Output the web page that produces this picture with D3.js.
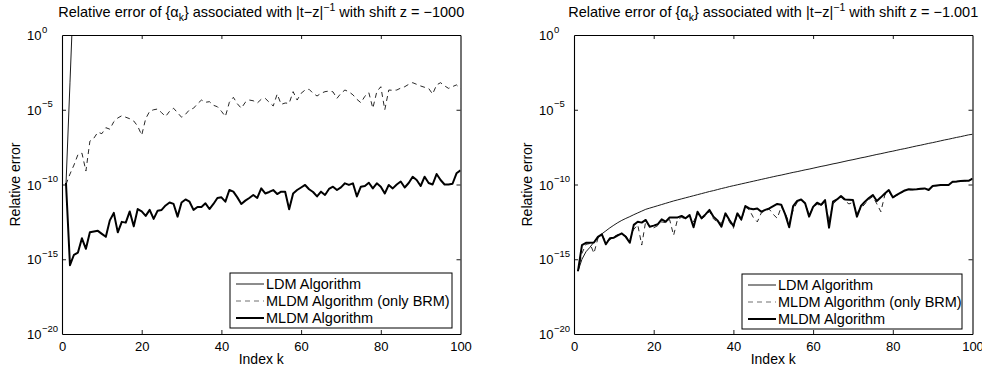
<!DOCTYPE html>
<html><head><meta charset="utf-8">
<script src="https://cdn.jsdelivr.net/npm/d3@7"></script>
<style>
html,body{margin:0;padding:0;background:#fff;}
svg{display:block;font-family:"Liberation Sans",Arial,Helvetica,sans-serif;}
</style></head>
<body>
<svg id="c" width="982" height="372"></svg>
<script>
// ---- DATA (log10 of relative error, index k = 1..n) ----
const indexK = d3.range(1, 101);
const xTicks = [0, 20, 40, 60, 80, 100];
const yTickExponents = [0, -5, -10, -15, -20];
const legendLabels = ["LDM Algorithm", "MLDM Algorithm (only BRM)", "MLDM Algorithm"];
const titlesShift = ["\u22121000", "\u22121.001"];

// Left panel (z = -1000)
const ldmLeft = [-10.0, -3.2, 3.6, 10.4];
const brmLeft = [-10.0,-9.3,-8.7,-8.0,-7.9,-9.1,-7.1,-6.9,-6.5,-6.6,
  -6.2,-6.3,-5.8,-5.55,-5.4,-5.5,-5.6,-5.75,-6.1,-6.7,
  -5.6,-5.1,-5.0,-4.95,-5.2,-5.45,-5.1,-4.9,-5.2,-5.5,
  -5.3,-5.0,-4.9,-4.6,-4.35,-4.5,-4.46,-4.7,-4.8,-5.1,
  -5.45,-4.5,-4.17,-4.6,-4.9,-4.5,-4.35,-4.4,-4.55,-4.3,
  -4.24,-4.5,-4.75,-3.95,-4.64,-4.55,-4.57,-3.79,-4.35,-3.9,
  -3.68,-3.63,-3.9,-4.08,-3.9,-3.79,-3.75,-3.8,-4.24,-3.9,
  -3.68,-3.8,-4.0,-4.3,-4.53,-4.1,-3.86,-4.9,-3.79,-3.46,
  -5.0,-3.68,-3.7,-3.68,-3.55,-3.46,-3.3,-3.19,-3.3,-3.41,
  -3.5,-3.57,-3.95,-3.34,-3.19,-3.4,-3.57,-3.45,-3.34,-3.6];
const mldmLeft = [-9.9,-15.4,-14.7,-14.55,-13.6,-14.3,-13.2,-13.15,-13.1,-13.3,
  -13.5,-12.4,-11.9,-13.2,-12.5,-12.55,-11.8,-12.8,-11.64,-11.8,
  -12.1,-11.7,-12.3,-11.75,-11.7,-11.4,-11.2,-11.3,-12.15,-11.2,
  -11.0,-11.15,-11.7,-11.5,-11.5,-11.26,-11.64,-11.3,-10.9,-10.86,
  -11.15,-10.37,-10.48,-10.86,-11.3,-11.08,-10.9,-10.7,-10.9,-10.26,
  -10.6,-10.5,-10.37,-10.64,-10.48,-10.48,-11.66,-10.6,-10.37,-10.2,
  -10.03,-10.32,-10.5,-10.8,-10.48,-10.7,-10.3,-10.15,-10.37,-10.19,
  -9.92,-10.03,-9.92,-10.8,-10.15,-10.1,-9.88,-10.26,-9.92,-10.15,
  -10.6,-10.03,-10.26,-10.0,-9.8,-10.2,-9.9,-9.48,-9.7,-10.1,
  -9.48,-9.9,-10.0,-9.3,-9.7,-10.0,-10.0,-9.95,-9.25,-9.05];

// Right panel (z = -1.001)
const ldmRight = [-15.8,-15.0,-14.5,-14.2,-13.85,-13.55,-13.3,-13.1,-12.9,-12.72,
  -12.55,-12.4,-12.27,-12.15,-12.02,-11.9,-11.78,-11.66,-11.58,-11.5,
  -11.42,-11.34,-11.26,-11.18,-11.1,-11.03,-10.96,-10.89,-10.82,-10.75,
  -10.68,-10.61,-10.54,-10.47,-10.41,-10.34,-10.27,-10.21,-10.14,-10.08,
  -10.02,-9.96,-9.9,-9.84,-9.78,-9.72,-9.66,-9.6,-9.54,-9.48,
  -9.42,-9.37,-9.31,-9.25,-9.19,-9.14,-9.08,-9.02,-8.97,-8.91,
  -8.85,-8.79,-8.74,-8.68,-8.62,-8.57,-8.51,-8.45,-8.39,-8.34,
  -8.28,-8.22,-8.17,-8.11,-8.05,-7.99,-7.94,-7.88,-7.82,-7.77,
  -7.71,-7.65,-7.6,-7.54,-7.48,-7.42,-7.37,-7.31,-7.25,-7.2,
  -7.14,-7.08,-7.02,-6.97,-6.91,-6.85,-6.8,-6.74,-6.68,-6.64];
const brmRight = [-15.8,-14.6,-14.0,-13.95,-14.6,-13.6,-13.4,-13.8,-13.7,-13.5,
  -13.35,-13.3,-13.45,-13.7,-13.0,-12.7,-14.05,-12.45,-12.8,-12.9,
  -12.75,-12.5,-12.55,-12.35,-13.4,-12.3,-12.2,-12.3,-12.1,-12.5,
  -11.9,-12.3,-12.1,-11.8,-12.3,-12.5,-12.6,-12.0,-12.5,-12.93,
  -12.0,-12.4,-11.5,-11.7,-12.2,-12.5,-11.9,-11.75,-11.65,-12.0,
  -12.26,-11.5,-11.9,-12.6,-11.7,-11.2,-11.05,-11.3,-12.0,-11.6,
  -11.3,-11.45,-11.1,-12.5,-11.3,-11.05,-10.85,-11.1,-11.3,-11.2,
  -11.9,-11.6,-11.3,-11.0,-10.8,-11.3,-11.82,-10.7,-10.45,-10.9,
  -10.72,-10.6,-10.42,-10.35,-10.35,-10.3,-10.3,-10.28,-10.35,-10.12,
  -10.08,-10.05,-10.05,-10.04,-9.83,-9.82,-9.78,-9.77,-9.76,-9.62];
const mldmRight = [-15.8,-14.05,-13.9,-13.9,-13.88,-13.5,-13.33,-14.0,-13.6,-13.56,
  -13.4,-13.27,-13.5,-13.9,-12.7,-12.49,-12.55,-12.37,-12.82,-12.75,
  -12.66,-12.33,-12.49,-12.2,-12.2,-12.2,-12.1,-12.26,-12.04,-12.86,
  -11.82,-12.26,-12.0,-11.7,-12.15,-12.4,-12.82,-11.93,-12.37,-12.78,
  -11.93,-12.33,-11.44,-11.6,-11.66,-11.6,-11.82,-11.7,-11.6,-11.45,
  -11.3,-11.35,-12.0,-12.86,-11.44,-11.1,-11.0,-11.26,-12.15,-11.5,
  -11.22,-11.37,-11.04,-12.89,-11.15,-11.0,-10.77,-11.0,-11.02,-11.04,
  -12.15,-11.44,-11.15,-10.9,-10.7,-11.1,-10.86,-10.6,-10.37,-10.86,
  -10.7,-10.55,-10.4,-10.32,-10.33,-10.32,-10.28,-10.26,-10.37,-10.1,
  -10.06,-10.03,-10.04,-10.03,-9.81,-9.8,-9.76,-9.75,-9.75,-9.6];

// ---- LAYOUT ----
const FONT = '"Liberation Sans",Arial,Helvetica,sans-serif';
const panels = [
  {x0:62, x1:460.5, shift:titlesShift[0], series:[ldmLeft, brmLeft, mldmLeft], leg:{x:230, y:273, w:222, h:55}},
  {x0:574, x1:972.5, shift:titlesShift[1], series:[ldmRight, brmRight, mldmRight], leg:{x:742, y:274, w:220, h:55}}
];
const yTop = 35, yBot = 334;
const styles = [
  {w:0.9, dash:null, color:"#000"},
  {w:0.85, dash:"5,4", color:"#000"},
  {w:2, dash:null, color:"#000"}
];

const svg = d3.select("#c");

panels.forEach((p, pi) => {
  const x = d3.scaleLinear().domain([0, 100]).range([p.x0, p.x1]);
  const y = d3.scaleLog().domain([1e-20, 1]).range([yBot, yTop]);
  const g = svg.append("g");

  const cid = "clip" + pi;
  svg.append("clipPath").attr("id", cid).append("rect")
    .attr("x", p.x0).attr("y", yTop).attr("width", p.x1 - p.x0).attr("height", yBot - yTop);

  const line = d3.line().x((d, i) => x(indexK[i])).y(d => y(Math.pow(10, d)));
  p.series.forEach((s, si) => {
    const st = styles[si];
    g.append("path").datum(s)
      .attr("clip-path", `url(#${cid})`)
      .attr("fill", "none").attr("stroke", st.color)
      .attr("stroke-width", st.w)
      .attr("stroke-linejoin", "round")
      .attr("stroke-dasharray", st.dash)
      .attr("d", line);
  });

  const tickVals = yTickExponents.map(e => Math.pow(10, e));
  const axB = g.append("g").attr("transform", `translate(0,${yBot})`)
    .call(d3.axisBottom(x).tickValues(xTicks).tickSizeInner(-4).tickSizeOuter(0).tickPadding(7.5).tickFormat(d3.format("d")));
  const axT = g.append("g").attr("transform", `translate(0,${yTop})`)
    .call(d3.axisTop(x).tickValues(xTicks).tickSizeInner(-4).tickSizeOuter(0).tickFormat(""));
  const axL = g.append("g").attr("transform", `translate(${p.x0},0)`)
    .call(d3.axisLeft(y).tickValues(tickVals).tickSizeInner(-4).tickSizeOuter(0).tickFormat(""));
  const axR = g.append("g").attr("transform", `translate(${p.x1},0)`)
    .call(d3.axisRight(y).tickValues(tickVals).tickSizeInner(-4).tickSizeOuter(0).tickFormat(""));
  [axB, axT, axL, axR].forEach(a => {
    a.select(".domain").attr("stroke", "#000").attr("stroke-width", 1.1);
    a.selectAll(".tick line").attr("stroke", "#000").attr("stroke-width", 0.9);
    a.attr("font-family", FONT);
  });
  axB.selectAll(".tick text").attr("font-size", 13).attr("fill", "#000");
  [axT, axB].forEach(a => a.selectAll(".tick line").filter(d => d === 0 || d === 100).remove());
  [axL, axR].forEach(a => a.selectAll(".tick line").filter(d => d <= 1e-20 || d >= 1).remove());

  axL.selectAll(".tick").each(function(d) {
    const t = d3.select(this);
    const e = Math.round(Math.log10(d));
    t.append("text").attr("x", -20.5).attr("y", 4.5).attr("text-anchor", "end")
      .attr("font-size", 13).attr("fill", "#000").attr("font-family", FONT).text("10");
    t.append("text").attr("x", -20).attr("y", -3).attr("text-anchor", "start")
      .attr("font-size", 9.5).attr("fill", "#000").attr("font-family", FONT)
      .text(e === 0 ? "0" : "\u2212" + Math.abs(e));
  });

  const cx = (p.x0 + p.x1) / 2;
  const tt = svg.append("text").attr("x", cx).attr("y", 17).attr("text-anchor", "middle")
    .attr("font-size", 14.5).attr("font-family", FONT).attr("fill", "#000");
  tt.append("tspan").text("Relative error of {\u03b1");
  tt.append("tspan").attr("dy", 4).attr("font-size", 10.5).text("k");
  tt.append("tspan").attr("dy", -4).text("} associated with |t\u2212z|");
  tt.append("tspan").attr("dy", -6).attr("font-size", 10.5).text("\u22121");
  tt.append("tspan").attr("dy", 6).text(" with shift z = " + p.shift);

  svg.append("text").attr("x", cx).attr("y", 364).attr("text-anchor", "middle")
    .attr("font-size", 14).attr("font-family", FONT).text("Index k");
  svg.append("text").attr("transform", `translate(${p.x0 - 42},${(yTop + yBot) / 2}) rotate(-90)`)
    .attr("text-anchor", "middle").attr("font-size", 14).attr("font-family", FONT).text("Relative error");

  const L = p.leg;
  const lg = svg.append("g");
  lg.append("rect").attr("x", L.x).attr("y", L.y).attr("width", L.w).attr("height", L.h)
    .attr("fill", "#fff").attr("stroke", "#000").attr("stroke-width", 1);
  legendLabels.forEach((lab, i) => {
    const cy = L.y + 11 + i * 17;
    const st = styles[i];
    lg.append("line").attr("x1", L.x + 6).attr("x2", L.x + 34).attr("y1", cy).attr("y2", cy)
      .attr("stroke", i === 1 ? "#555" : "#000").attr("stroke-width", st.w)
      .attr("stroke-dasharray", st.dash);
    lg.append("text").attr("x", L.x + 36).attr("y", cy + 5).attr("font-size", 14.5)
      .attr("font-family", FONT).attr("fill", "#000").text(lab);
  });
});
</script>
</body></html>
